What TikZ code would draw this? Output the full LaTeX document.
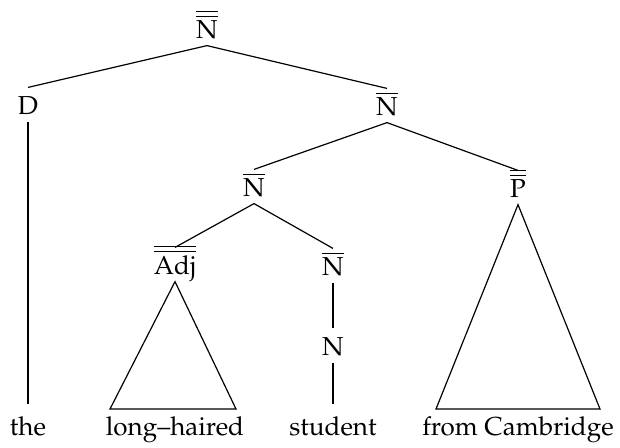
\documentclass[tikz,border=0pt]{standalone}
\usepackage[T1]{fontenc}
\usepackage{mathpazo}
\usetikzlibrary{positioning, calc}

\begin{document}
\begin{tikzpicture}[x=0.5pt, y=-0.5pt, line width=0.6pt]
        % Define node styles
        \tikzstyle{cat} = [anchor=base, inner sep=1pt, text height=12pt, text depth=2.5pt, font=\fontsize{13}{15}\selectfont]
        \tikzstyle{word} = [anchor=base, inner sep=1pt, text height=14pt, text depth=2.5pt, font=\fontsize{13}{15}\selectfont]

        \useasboundingbox (0,0) rectangle (620,447);

        % Place nodes
        \node [cat] (nbarbar) at (207,38) {$\overline{\overline{\mathrm{N}}}$};
        \node [cat] (det) at (28,114) {D};
        \node [cat] (nbar_top) at (387,115) {$\overline{\mathrm{N}}$};
        \node [cat] (nbar_mid) at (254,196) {$\overline{\mathrm{N}}$};
        \node [cat] (pbarbar) at (518,197) {$\overline{\overline{\mathrm{P}}}$};
        \node [cat] (adjbarbar) at (175,274) {$\overline{\overline{\mathrm{Adj}}}$};
        \node [cat] (nbar_low) at (333,275) {$\overline{\mathrm{N}}$};
        \node [cat] (noun) at (333,355) {N};

        \node [word] (the) at (28,435) {the};
        \node [word] (longhaired) at (175,435) {long--haired};
        \node [word] (student) at (333,435) {student};
        \node [word] (fromcambridge) at (518,435) {from Cambridge};

        % Triangle corners
        \coordinate (adj_left) at (110,409);
        \coordinate (adj_right) at (236,409);
        \coordinate (p_left) at (436,409);
        \coordinate (p_right) at (600,409);

        % Draw branches
        \draw (nbarbar.south) -- (det.north);
        \draw (nbarbar.south) -- (nbar_top.north);
        \draw (det.south) -- (the.north);
        \draw (nbar_top.south) -- (nbar_mid.north);
        \draw (nbar_top.south) -- (pbarbar.north);
        \draw (nbar_mid.south) -- (adjbarbar.north);
        \draw (nbar_mid.south) -- (nbar_low.north);
        \draw (nbar_low.south) -- (noun.north);
        \draw (noun.south) -- (student.north);

        % Draw triangles
        \draw (adjbarbar.south) -- (adj_left) -- (adj_right) -- cycle;
        \draw (pbarbar.south) -- (p_left) -- (p_right) -- cycle;
    \end{tikzpicture}
\end{document}
